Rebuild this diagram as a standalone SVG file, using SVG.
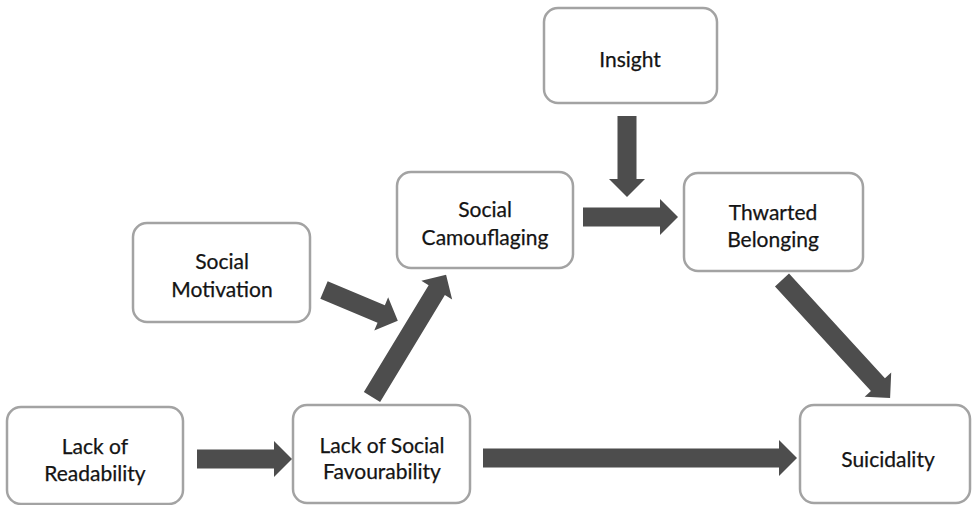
<svg xmlns="http://www.w3.org/2000/svg" width="973" height="505" viewBox="0 0 973 505">
<style>
.box{fill:#fff;stroke:#a3a3a3;stroke-width:2.5}
.t{font-family:Lato,"Open Sans","Liberation Sans",sans-serif;font-size:21px;fill:#141414;text-anchor:middle;stroke:#141414;stroke-width:0.25}
.arr{fill:#4d4d4d}
</style>
<rect width="973" height="505" fill="#fff"/>
<g id="insight"><rect class="box" x="544" y="8" width="173" height="95" rx="14"/><text class="t" x="630" y="67">Insight</text></g>
<g id="camouflaging"><rect class="box" x="397" y="172" width="176" height="96" rx="14"/><text class="t" x="485" y="217">Social</text><text class="t" x="485" y="245">Camouflaging</text></g>
<g id="thwarted"><rect class="box" x="684" y="173" width="179" height="98" rx="14"/><text class="t" x="773" y="220">Thwarted</text><text class="t" x="773" y="247">Belonging</text></g>
<g id="motivation"><rect class="box" x="133" y="223" width="177" height="99" rx="14"/><text class="t" x="222" y="269">Social</text><text class="t" x="222" y="297">Motivation</text></g>
<g id="readability"><rect class="box" x="7" y="407" width="176" height="97" rx="14"/><text class="t" x="95" y="454">Lack of</text><text class="t" x="95" y="481">Readability</text></g>
<g id="favourability"><rect class="box" x="293" y="405" width="177" height="98" rx="14"/><text class="t" x="382" y="453">Lack of Social</text><text class="t" x="382" y="479">Favourability</text></g>
<g id="suicidality"><rect class="box" x="800" y="405" width="170" height="98" rx="14"/><text class="t" x="888" y="467">Suicidality</text></g>
<g id="connectors">
<polygon class="arr" transform="translate(627,116) rotate(90)" points="0,-9.5 63,-9.5 63,-18 81,0 63,18 63,9.5 0,9.5"/>
<polygon class="arr" transform="translate(583,217)" points="0,-9.5 77,-9.5 77,-18 95,0 77,18 77,9.5 0,9.5"/>
<polygon class="arr" transform="translate(782,280) rotate(47.5)" points="0,-9.5 142,-9.5 142,-18 160,0 142,18 142,9.5 0,9.5"/>
<polygon class="arr" transform="translate(197,459)" points="0,-9.5 77,-9.5 77,-18 95,0 77,18 77,9.5 0,9.5"/>
<polygon class="arr" transform="translate(483,458)" points="0,-9.5 296,-9.5 296,-18 314,0 296,18 296,9.5 0,9.5"/>
<polygon class="arr" transform="translate(324,290) rotate(22.7)" points="0,-9.5 62,-9.5 62,-18 80,0 62,18 62,9.5 0,9.5"/>
<polygon class="arr" transform="translate(372,397) rotate(-58.8)" points="0,-9.5 125,-9.5 125,-18 143,0 125,18 125,9.5 0,9.5"/>
</g>
</svg>
